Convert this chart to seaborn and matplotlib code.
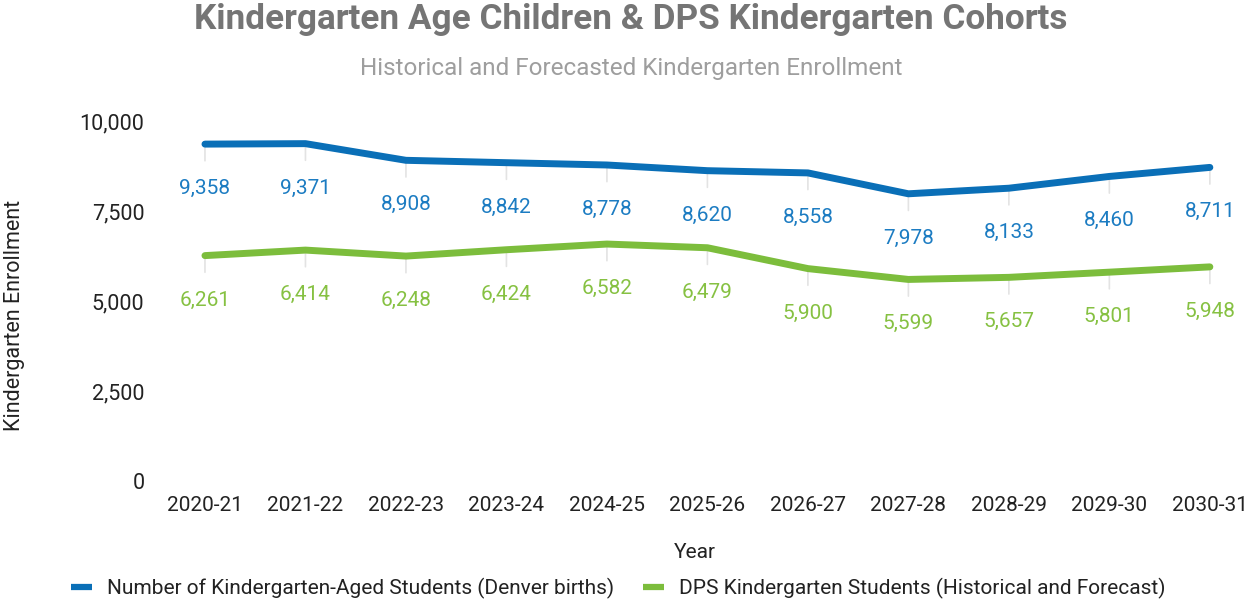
import pandas as pd
import seaborn as sns
import matplotlib.pyplot as plt

# --- Data ---
years = ["2020-21", "2021-22", "2022-23", "2023-24", "2024-25", "2025-26",
         "2026-27", "2027-28", "2028-29", "2029-30", "2030-31"]
denver_births = [9358, 9371, 8908, 8842, 8778, 8620, 8558, 7978, 8133, 8460, 8711]
dps_kinder = [6261, 6414, 6248, 6424, 6582, 6479, 5900, 5599, 5657, 5801, 5948]

s1 = "Number of Kindergarten-Aged Students (Denver births)"
s2 = "DPS Kindergarten Students (Historical and Forecast)"

df = pd.DataFrame({
    "Year": years * 2,
    "idx": list(range(len(years))) * 2,
    "Enrollment": denver_births + dps_kinder,
    "Series": [s1] * len(years) + [s2] * len(years),
})

blue = "#0a6fb7"
green = "#7cbd3c"
blue_txt = "#1c7cc2"
green_txt = "#86c142"

sns.set_theme(style="white")
plt.rcParams["font.family"] = ["Roboto", "DejaVu Sans"]

fig = plt.figure(figsize=(12.48, 6.03), dpi=100)
ax = fig.add_axes([150 / 1248, (603 - 481) / 603, 1090 / 1248, 360 / 603])

sns.lineplot(data=df, x="idx", y="Enrollment", hue="Series",
             palette={s1: blue, s2: green}, linewidth=5, ax=ax, legend=False)

# leader lines + value labels
for vals, col in [(denver_births, blue_txt), (dps_kinder, green_txt)]:
    for i, v in enumerate(vals):
        ax.annotate("", xy=(i, v), xytext=(0, -14), textcoords="offset points",
                    arrowprops=dict(arrowstyle="-", color="#e3e3e3", lw=1.2),
                    zorder=1)
        ax.annotate(f"{v:,}", xy=(i, v), xytext=(0, -32), textcoords="offset points",
                    ha="center", va="center", fontsize=15, color=col)

ax.set_xlim(-0.547, 10.3)
ax.set_ylim(0, 10000)
ax.set_xticks(range(len(years)))
ax.set_xticklabels(years)
ax.set_yticks([0, 2500, 5000, 7500, 10000])
ax.set_yticklabels(["0", "2,500", "5,000", "7,500", "10,000"])
ax.tick_params(axis="both", length=0, labelsize=15, colors="#222222")
ax.tick_params(axis="y", labelsize=15.5, pad=4)
ax.tick_params(axis="x", pad=11)
sns.despine(ax=ax, left=True, bottom=True)

ax.set_xlabel("Year", fontsize=15, color="#222222", labelpad=20)
ax.set_ylabel("")
fig.text(15 / 1248, 1 - 315 / 603, "Kindergarten Enrollment", rotation=90,
         ha="center", va="center", fontsize=15.5, color="#222222")

fig.text(631 / 1248, 1 - 20 / 603, "Kindergarten Age Children & DPS Kindergarten Cohorts",
         ha="center", va="center", fontsize=25.3, fontweight="bold", color="#757575")
fig.text(631 / 1248, 1 - 68 / 603, "Historical and Forecasted Kindergarten Enrollment",
         ha="center", va="center", fontsize=17.5, color="#9e9e9e")

handles = [plt.Line2D([], [], color=blue, lw=4.5, solid_capstyle="butt"),
           plt.Line2D([], [], color=green, lw=4.5, solid_capstyle="butt")]
fig.legend(handles, [s1, s2], loc="center", bbox_to_anchor=(618.5 / 1248, 1 - 588 / 603),
           ncol=2, frameon=False, fontsize=15, handlelength=1.0,
           columnspacing=1.4, handletextpad=0.72, labelcolor="#222222",
           borderpad=0, borderaxespad=0)

fig.savefig("out.png", dpi=100, facecolor="white")
